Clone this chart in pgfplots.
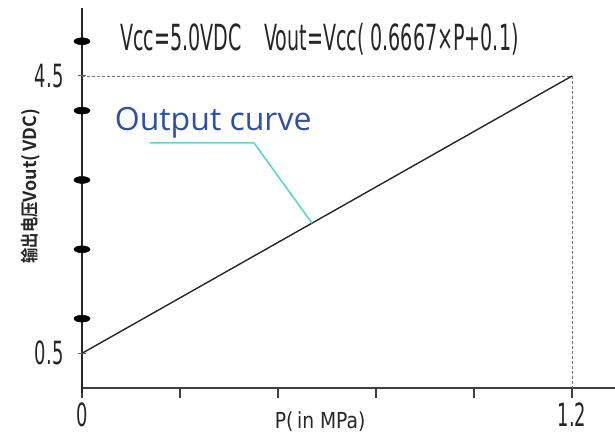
\documentclass[border=0pt]{standalone}
\usepackage{fontspec}
\usepackage{pgfplots}
\pgfplotsset{compat=1.18}
\newfontfamily\cond{DejaVu Sans}[FakeStretch=0.56]
\newfontfamily\condt{DejaVu Sans}[FakeStretch=0.53]
\newfontfamily\condx{DejaVu Sans}[FakeStretch=0.85]
\newfontfamily\cjk{Noto Sans CJK SC Bold}[FakeStretch=0.85]
\newfontfamily\cjklat{Noto Sans CJK SC Bold}[FakeStretch=1.0]
\newfontfamily\osans{Open Sans}
\definecolor{txtblue}{HTML}{2E4FA6}
\definecolor{leader}{HTML}{55D8D0}
\begin{document}
\begin{tikzpicture}
\useasboundingbox (-82pt,-55pt) rectangle (533pt,388pt);
\begin{axis}[
  scale only axis,
  width=533pt, height=380pt,
  xmin=0, xmax=1.305, ymin=0, ymax=5.48,
  axis lines=left,
  axis line style={-},
  x axis line style={line width=2.4pt, black!75},
  y axis line style={line width=2pt, black!85, shorten <=-5pt},
  clip=false,
  xtick={0,0.24,0.48,0.72,0.96,1.2},
  xticklabels={0,,,,,1.2},
  ytick={0.5,4.5},
  yticklabels={0.5,4.5},
  tick align=outside,
  major tick length=10pt,
  xtick style={line width=1.4pt, black!75},
  ytick style={draw=none},
  /pgf/number format/assume math mode=true,
  ticklabel style={font=\cond\fontsize{32}{32}\selectfont, black!85},
  xticklabel style={yshift=-1pt},
  yticklabel style={xshift=-5pt},
]
\addplot[densely dashed, line width=0.7pt, black!55] coordinates {(0,4.5) (1.2,4.5) (1.2,0)};
\addplot[line width=1.4pt, black!85] coordinates {(0,0.5) (1.2,4.5)};
\addplot[only marks, mark=*, mark size=3.5pt, mark options={xscale=2.3, fill=black, draw=black}] coordinates {(0,1) (0,2) (0,3) (0,4) (0,5)};
\addplot[only marks, mark=-, mark size=4pt, mark options={line width=1pt, black!60}] coordinates {(0,0.5) (0,4.5)};
\addplot[line width=1.6pt, leader] coordinates {(0.1665,3.535) (0.421,3.535) (0.563,2.377)};
\node[anchor=base west, inner sep=0pt, text=txtblue, font=\osans\fontsize{32}{32}\selectfont] at (axis cs:0.080,3.72) {Output curve};
\node[anchor=base west, inner sep=0pt, text=black!85, font=\condt\fontsize{36}{36}\selectfont] at (axis cs:0.093,4.86) {Vcc=5.0VDC};
\node[anchor=base west, inner sep=0pt, text=black!85, font=\condt\fontsize{36}{36}\selectfont] at (axis cs:0.4459,4.86) {Vout=Vcc(\,0.6667×P+0.1)};
\node[rotate=90, inner sep=0pt, text=black!85] at (axis cs:-0.125,2.91) {\cjk\fontsize{18}{18}\selectfont 输出电压\cjklat Vout(\,VDC)};
\node[inner sep=0pt, text=black!85, font=\condx\fontsize{22}{22}\selectfont] at (axis cs:0.583,-0.49) {P(\,in MPa)};
\end{axis}
\end{tikzpicture}
\end{document}
